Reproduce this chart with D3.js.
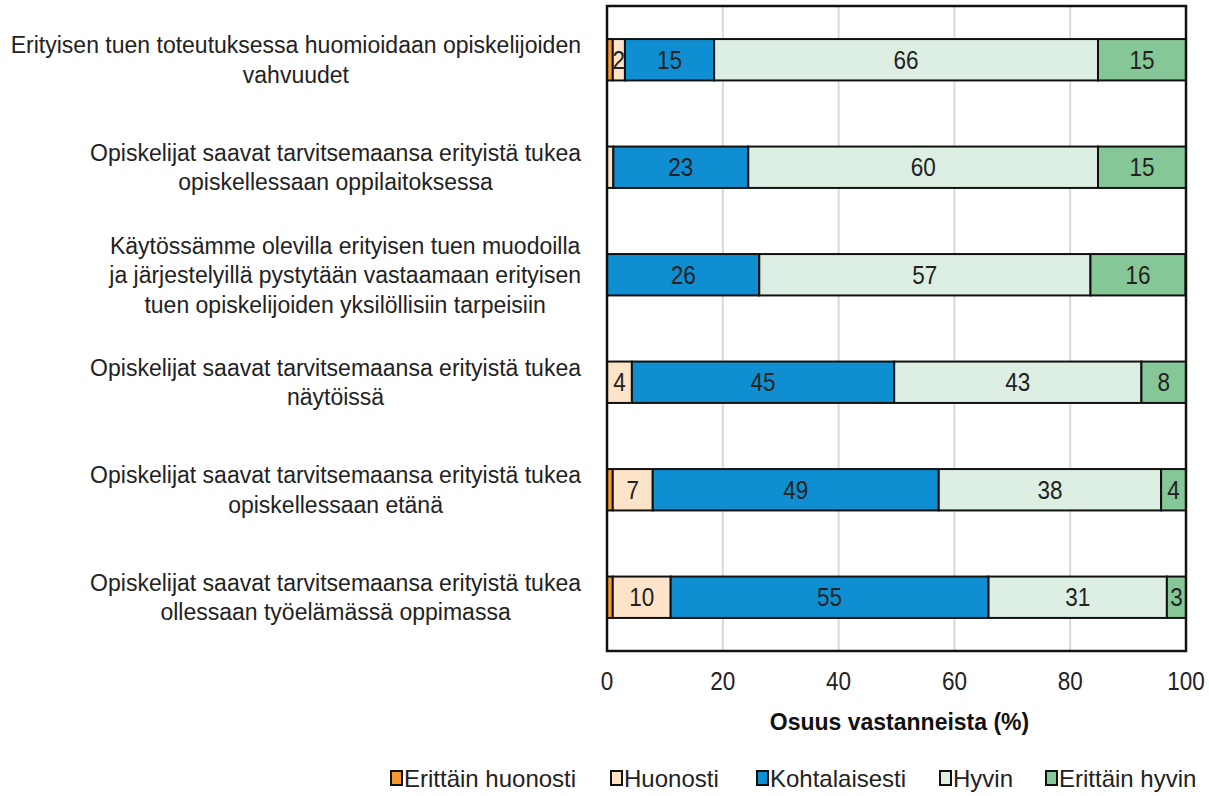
<!DOCTYPE html>
<html>
<head>
<meta charset="utf-8">
<script src="https://cdn.jsdelivr.net/npm/d3@7"></script>
<style>
  body { margin: 0; background: #fff; }
  text { font-family: "Liberation Sans Narrow", "Arial Narrow", "Liberation Sans", sans-serif; }
</style>
</head>
<body>
<div id="chart"></div>
<script>
// kysymykset (rivit ylhäältä alas)
var questions = [
    ["Erityisen tuen toteutuksessa huomioidaan opiskelijoiden", "vahvuudet"],
    ["Opiskelijat saavat tarvitsemaansa erityistä tukea", "opiskellessaan oppilaitoksessa"],
    ["Käytössämme olevilla erityisen tuen muodoilla", "ja järjestelyillä pystytään vastaamaan erityisen", "tuen opiskelijoiden yksilöllisiin tarpeisiin"],
    ["Opiskelijat saavat tarvitsemaansa erityistä tukea", "näytöissä"],
    ["Opiskelijat saavat tarvitsemaansa erityistä tukea", "opiskellessaan etänä"],
    ["Opiskelijat saavat tarvitsemaansa erityistä tukea", "ollessaan työelämässä oppimassa"]
];
var series = ["Erittäin huonosti", "Huonosti", "Kohtalaisesti", "Hyvin", "Erittäin hyvin"];
var colors = ["#f39a30", "#fde4c8", "#0f8fd1", "#ddeee3", "#86c798"];

// osuudet (%) sarjoittain
var erittainHuonosti = [1.0, 0, 0, 0, 1.0, 1.0];
var huonosti         = [2.1, 1.1, 0, 4.3, 6.9, 10.0];
var kohtalaisesti    = [15.4, 23.3, 26.3, 45.3, 49.4, 54.9];
var hyvin            = [66.3, 60.4, 57.2, 42.7, 38.4, 30.8];
var erittainHyvin    = [15.2, 15.2, 16.4, 7.7, 4.3, 3.3];
var xTicks = [0, 20, 40, 60, 80, 100];

var svgwidth = 1209, svgheight = 796;
var margin = {top: 6, right: 23, bottom: 145, left: 607};
var width = svgwidth - margin.left - margin.right;
var height = svgheight - margin.top - margin.bottom;

var svg = d3.select("#chart").append("svg")
    .attr("width", svgwidth)
    .attr("height", svgheight);

var g = svg.append("g").attr("transform", "translate(" + margin.left + "," + margin.top + ")");

var table = questions.map(function(q, i) {
    return {
        idx: i,
        q: q,
        "Erittäin huonosti": erittainHuonosti[i],
        "Huonosti": huonosti[i],
        "Kohtalaisesti": kohtalaisesti[i],
        "Hyvin": hyvin[i],
        "Erittäin hyvin": erittainHyvin[i]
    };
});

var x = d3.scaleLinear().domain([0, 100]).range([0, width]);
var y = d3.scaleBand().domain(d3.range(questions.length)).range([0, height]).padding(0);
var barH = y.bandwidth() * 0.385;
var color = d3.scaleOrdinal().domain(series).range(colors);

// ruudukko
g.append("g").selectAll("line")
    .data(xTicks.filter(function(d) { return d > 0 && d < 100; }))
    .enter().append("line")
    .attr("x1", function(d) { return x(d); })
    .attr("x2", function(d) { return x(d); })
    .attr("y1", 0).attr("y2", height)
    .attr("stroke", "#d9d9d9")
    .attr("stroke-width", 2);

var stack = d3.stack().keys(series)(table);

var layer = g.selectAll(".layer")
    .data(stack)
    .enter().append("g")
    .attr("class", "layer")
    .attr("fill", function(d) { return color(d.key); });

layer.selectAll("rect")
    .data(function(d) { return d; })
    .enter().filter(function(d) { return d[1] - d[0] > 0; })
    .append("rect")
    .attr("x", function(d) { return x(d[0]); })
    .attr("width", function(d) { return x(d[1]) - x(d[0]); })
    .attr("y", function(d) { return y(d.data.idx) + (y.bandwidth() - barH) / 2; })
    .attr("height", barH)
    .attr("stroke", "#111")
    .attr("stroke-width", 2);

// arvot, hieman kavennettuna
layer.selectAll("text")
    .data(function(d) { return d; })
    .enter().filter(function(d) { return Math.round(d[1] - d[0]) >= 2; })
    .append("text")
    .attr("transform", function(d) {
        return "translate(" + (x(d[0]) + x(d[1])) / 2 + "," + (y(d.data.idx) + y.bandwidth() / 2) + ") scale(0.9,1)";
    })
    .attr("dy", "0.36em")
    .attr("text-anchor", "middle")
    .attr("font-size", 25)
    .attr("fill", "#222")
    .text(function(d) { return Math.round(d[1] - d[0]); });

// kehys
g.append("rect")
    .attr("width", width).attr("height", height)
    .attr("fill", "none")
    .attr("stroke", "#111")
    .attr("stroke-width", 2.5);

// x-akseli
g.append("g").selectAll("text")
    .data(xTicks)
    .enter().append("text")
    .attr("transform", function(d) { return "translate(" + x(d) + "," + (height + 30) + ") scale(0.9,1)"; })
    .attr("dy", "0.36em")
    .attr("text-anchor", "middle")
    .attr("font-size", 25)
    .attr("fill", "#222")
    .text(function(d) { return d; });

g.append("text")
    .attr("x", width / 2 + 3)
    .attr("y", height + 71)
    .attr("dy", "0.36em")
    .attr("text-anchor", "middle")
    .attr("font-size", 23)
    .attr("font-weight", "bold")
    .attr("fill", "#111")
    .text("Osuus vastanneista (%)");

// kysymysten tekstit
var labelRight = 581, lineH = 29.5;
var lab = svg.append("g").selectAll("g")
    .data(table)
    .enter().append("g");

lab.each(function(d) {
    var gg = d3.select(this);
    var cy = margin.top + y(d.idx) + y.bandwidth() / 2;
    var n = d.q.length;
    var t = gg.selectAll("text").data(d.q).enter().append("text")
        .attr("y", function(s, j) { return cy + (j - (n - 1) / 2) * lineH; })
        .attr("dy", "0.36em")
        .attr("text-anchor", "middle")
        .attr("font-size", 23)
        .attr("fill", "#222")
        .text(function(s) { return s; });
    var w = 0;
    t.each(function() { w = Math.max(w, this.getComputedTextLength()); });
    t.attr("x", labelRight - w / 2);
});

// selite
var legendX = [391, 611, 757, 940, 1046];
var leg = svg.append("g").selectAll("g")
    .data(series)
    .enter().append("g")
    .attr("transform", function(d, i) { return "translate(" + legendX[i] + ",778)"; });

leg.append("rect")
    .attr("x", 0).attr("y", -7)
    .attr("width", 11).attr("height", 14)
    .attr("fill", function(d) { return color(d); })
    .attr("stroke", "#111")
    .attr("stroke-width", 2);

leg.append("text")
    .attr("x", 13)
    .attr("dy", "0.36em")
    .attr("font-size", 24)
    .attr("fill", "#222")
    .text(function(d) { return d; });
</script>
</body>
</html>
